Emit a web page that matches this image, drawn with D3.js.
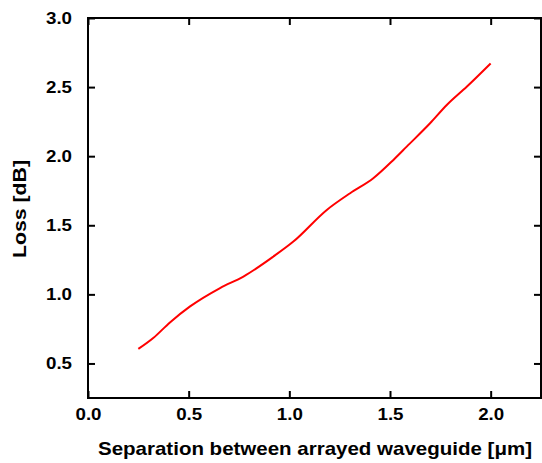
<!DOCTYPE html>
<html>
<head>
<meta charset="utf-8">
<script src="https://cdn.jsdelivr.net/npm/d3@7"></script>
<style>
  body { margin: 0; background: #fff; }
  svg { display: block; }
  text { font-family: "Liberation Sans", Arial, sans-serif; font-weight: bold; fill: #000; }
</style>
</head>
<body>
<svg id="chart" width="542" height="463"></svg>
<script>
// Loss vs. separation between arrayed waveguides
const separation = [0.25, 0.324, 0.407, 0.507, 0.656, 0.772, 0.921, 1.020, 1.186, 1.302, 1.417, 1.517, 1.583, 1.699, 1.782, 1.881, 2.0];
const loss       = [0.605, 0.684, 0.797, 0.913, 1.046, 1.129, 1.274, 1.382, 1.611, 1.732, 1.840, 1.973, 2.069, 2.238, 2.370, 2.502, 2.671];
const xTicks = [0, 0.5, 1.0, 1.5, 2.0];
const yTicks = [0.5, 1.0, 1.5, 2.0, 2.5, 3.0];

const svg = d3.select("#chart");
const plotLeft = 88, plotRight = 541, plotTop = 18, plotBottom = 398;

const x = d3.scaleLinear().domain([0, 2.25]).range([plotLeft, plotRight]);
const y = d3.scaleLinear().domain([0.25, 3.0]).range([plotBottom, plotTop]);

const fmt = d3.format(".1f");

// bottom axis with labels
const gx = svg.append("g").attr("transform", `translate(0,${plotBottom})`)
  .call(d3.axisBottom(x).tickValues(xTicks).tickSizeInner(-7).tickSizeOuter(0).tickPadding(11).tickFormat(fmt));
// top axis (ticks only)
const gt = svg.append("g").attr("transform", `translate(0,${plotTop})`)
  .call(d3.axisTop(x).tickValues(xTicks).tickSizeInner(-7).tickSizeOuter(0).tickFormat(""));
// left axis with labels
const gy = svg.append("g").attr("transform", `translate(${plotLeft},0)`)
  .call(d3.axisLeft(y).tickValues(yTicks).tickSizeInner(-7).tickSizeOuter(0).tickPadding(16).tickFormat(fmt));
// right axis (ticks only)
const gr = svg.append("g").attr("transform", `translate(${plotRight},0)`)
  .call(d3.axisRight(y).tickValues(yTicks).tickSizeInner(-7).tickSizeOuter(0).tickFormat(""));

[gx, gt, gy, gr].forEach(g => {
  g.selectAll(".domain").remove();
  g.selectAll(".tick line").attr("stroke", "#000").attr("stroke-width", 2);
  g.selectAll(".tick text")
    .attr("font-size", 16)
    .attr("font-family", "Liberation Sans, Arial, sans-serif")
    .attr("font-weight", "bold")
    .attr("fill", "#000")
    .attr("textLength", 26)
    .attr("lengthAdjust", "spacingAndGlyphs");
});

// frame
svg.append("rect")
  .attr("x", plotLeft).attr("y", plotTop)
  .attr("width", plotRight - plotLeft).attr("height", plotBottom - plotTop)
  .attr("fill", "none").attr("stroke", "#000").attr("stroke-width", 2);

// curve
svg.append("path")
  .datum(d3.zip(separation, loss))
  .attr("fill", "none")
  .attr("stroke", "#ff0000")
  .attr("stroke-width", 2)
  .attr("d", d3.line().x(d => x(d[0])).y(d => y(d[1])).curve(d3.curveMonotoneX));

// axis titles
svg.append("text")
  .attr("x", 315).attr("y", 455)
  .attr("text-anchor", "middle")
  .attr("font-size", 19)
  .attr("textLength", 434)
  .attr("lengthAdjust", "spacingAndGlyphs")
  .text("Separation between arrayed waveguide [μm]");

svg.append("text")
  .attr("transform", `translate(26,209) rotate(-90)`)
  .attr("text-anchor", "middle")
  .attr("font-size", 19)
  .attr("textLength", 98)
  .attr("lengthAdjust", "spacingAndGlyphs")
  .text("Loss [dB]");
</script>
</body>
</html>
